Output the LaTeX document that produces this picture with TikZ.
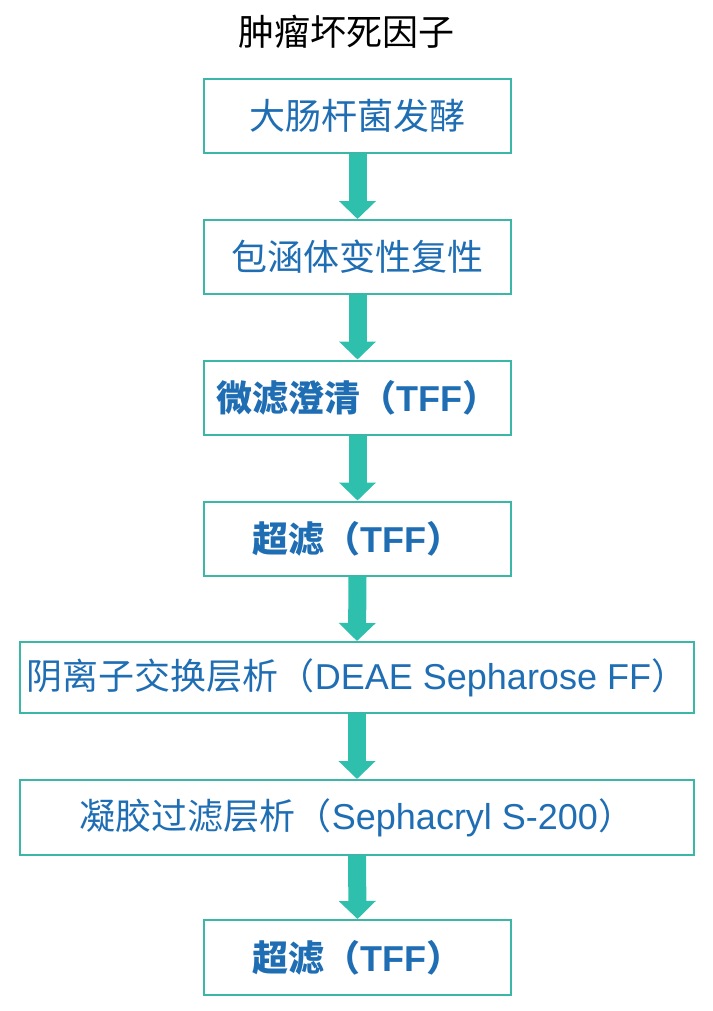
\documentclass[tikz,border=0pt]{standalone}
\usepackage{fontspec}
\setmainfont{Liberation Sans}
\newfontfamily\cjk{Noto Sans CJK SC}
\usetikzlibrary{arrows.meta}
\definecolor{myteal}{RGB}{58,183,166}
\definecolor{arrowteal}{RGB}{46,192,172}
\definecolor{myblue}{RGB}{31,110,180}
\tikzset{>=latex}
\tikzset{
  box/.style = {draw = myteal, line width = 2, inner sep = 0, text = myblue,
    minimum width = 307, minimum height = 74, font = \fontsize{36}{42}\selectfont},
  boldbox/.style = {box, font = \fontsize{36}{42}\selectfont\bfseries},
  widebox/.style = {box, minimum width = 674},
  flow/.style = {arrowteal, line width = 18, -{Triangle[width = 36pt, length = 18pt]}}
}

\begin{document}
\begin{tikzpicture}[x = 1pt, y = -1pt]
\useasboundingbox (0, 0) rectangle (712, 1011);

\node[font = \fontsize{36}{42}\selectfont] (title) at (346, 32) {\cjk 肿瘤坏死因子};

\node[box] (ferm) at (357.5, 116) {\cjk 大肠杆菌发酵};
\node[box] (refold) at (357.5, 257) {\cjk 包涵体变性复性};
\node[boldbox] (mf) at (357.5, 397.5) {{\cjk\bfseries 微滤澄清（}TFF{\cjk\bfseries ）}};
\node[boldbox] (uf) at (357.5, 538.5) {{\cjk\bfseries 超滤（}TFF{\cjk\bfseries ）}};
\node[widebox, minimum height = 71] (iex) at (357, 677.5) {{\cjk 阴离子交换层析（}DEAE Sepharose FF{\cjk ）}};
\node[widebox, minimum height = 75] (gf) at (357, 817.5) {{\cjk 凝胶过滤层析（}Sephacryl S-200{\cjk ）}};
\node[boldbox, minimum height = 75] (uf2) at (357.5, 957.5) {{\cjk\bfseries 超滤（}TFF{\cjk\bfseries ）}};

% steps
\foreach \a / \b in {ferm/refold, refold/mf, mf/uf, uf/iex, iex/gf, gf/uf2}{
	\draw[flow] (\a.south) -- (\b.north);
}

\end{tikzpicture}
\end{document}
